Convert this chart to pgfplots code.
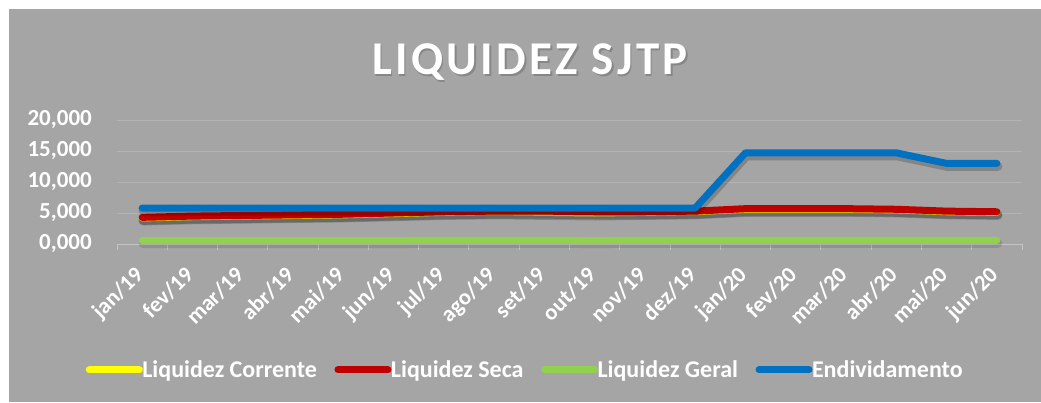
\documentclass[border=0pt]{standalone}
\usepackage{pgfplots}
\usepackage{pgfplotstable}
\pgfplotsset{compat=1.18}
\usepackage{fontspec}
\setmainfont{Carlito}
\definecolor{bg}{HTML}{A5A5A5}
\definecolor{gridc}{HTML}{B4B4B4}
\definecolor{axc}{HTML}{C4C4C4}
\definecolor{cyel}{HTML}{FFFF00}
\definecolor{cred}{HTML}{C00000}
\definecolor{cgrn}{HTML}{92D050}
\definecolor{cblu}{HTML}{0070C0}
\pgfplotstableread{
x cor sec ger end
0  4.2 4.3 0.55 5.8
1  4.4 4.5 0.55 5.8
2  4.5 4.6 0.55 5.8
3  4.6 4.7 0.55 5.8
4  4.7 4.8 0.55 5.8
5  4.9 5.0 0.55 5.8
6  5.1 5.2 0.6 5.8
7  5.2 5.3 0.6 5.8
8  5.1 5.3 0.6 5.8
9  5.0 5.2 0.55 5.8
10 5.1 5.2 0.6 5.8
11 5.2 5.3 0.6 5.8
12 5.6 5.7 0.6 14.7
13 5.6 5.7 0.6 14.7
14 5.6 5.7 0.6 14.7
15 5.5 5.6 0.6 14.7
16 5.2 5.3 0.6 13.0
17 5.1 5.2 0.6 13.0
}\data
\begin{document}
\begin{tikzpicture}[x=1pt,y=1pt]
\fill[white] (0,0) rectangle (1041,402);
\fill[bg] (9,0) rectangle (1041,393);
\path[use as bounding box] (0,0) rectangle (1041,402);
\node[anchor=base, text=black, opacity=0.18, font=\bfseries\fontsize{47}{50}\selectfont\addfontfeature{LetterSpace=7}] at (531.5,325.5) {LIQUIDEZ SJTP};
\node[anchor=base, text=white, font=\bfseries\fontsize{47}{50}\selectfont\addfontfeature{LetterSpace=7}] at (530,327) {LIQUIDEZ SJTP};
\begin{axis}[
  at={(117pt,158pt)}, anchor=south west,
  scale only axis, width=905pt, height=124pt,
  xmin=-0.5, xmax=17.5, ymin=0, ymax=20,
  clip=false,
  axis x line*=bottom, axis y line*=left,
  y axis line style={draw=none},
  x axis line style={draw=axc, line width=1pt, -},
  ytick={0,5,10,15,20},
  ymajorgrids, major grid style={draw=gridc, line width=1pt},
  ytick style={draw=none},
  yticklabel={\pgfmathprintnumber[fixed,fixed zerofill,precision=3,use comma,1000 sep={},assume math mode=true]{\tick}},
  yticklabel style={text=white, font=\bfseries\fontsize{23}{26}\selectfont, inner sep=0pt, xshift=-25pt},
  xtick={0,...,17},
  xticklabels={jan/19,fev/19,mar/19,abr/19,mai/19,jun/19,jul/19,ago/19,set/19,out/19,nov/19,dez/19,jan/20,fev/20,mar/20,abr/20,mai/20,jun/20},
  major x tick style={draw=none},
  minor xtick={-0.5,0.5,...,17.5},
  minor x tick style={draw=axc, line width=1pt},
  tick align=outside, minor tick length=6pt, major tick length=0pt,
  xticklabel style={text=white, font=\bfseries\fontsize{22.5}{24}\selectfont, inner sep=0pt, xshift=-9pt, yshift=-21pt, rotate=45, anchor=north east},
  legend columns=4,
  legend style={at={(0.4508,-1.016)}, anchor=center, draw=none, fill=none, text=white,
    font=\bfseries\fontsize{24}{26}\selectfont,
    /tikz/every odd column/.append style={column sep=-2pt},
    /tikz/every even column/.append style={column sep=16pt},
    nodes={inner sep=1.5pt}},
  legend image code/.code={\draw[#1, line width=7pt, line cap=round] (3.5pt,0pt) -- (53.5pt,0pt);},
  shadow/.style={black, opacity=0.2, line width=9pt, line join=round, line cap=round, yshift=-3pt, xshift=1pt, forget plot},
  main/.style={line width=7pt, line join=round, line cap=round},
]
\addplot[shadow] table[x=x,y=cor]{\data};
\addplot[main, cyel] table[x=x,y=cor]{\data};
\addlegendentry{Liquidez Corrente}
\addplot[shadow] table[x=x,y=sec]{\data};
\addplot[main, cred] table[x=x,y=sec]{\data};
\addlegendentry{Liquidez Seca}
\addplot[shadow, opacity=0.12] table[x=x,y=ger]{\data};
\addplot[main, cgrn] table[x=x,y=ger]{\data};
\addlegendentry{Liquidez Geral}
\addplot[shadow] table[x=x,y=end]{\data};
\addplot[main, cblu] table[x=x,y=end]{\data};
\addlegendentry{Endividamento}
\end{axis}
\end{tikzpicture}
\end{document}
